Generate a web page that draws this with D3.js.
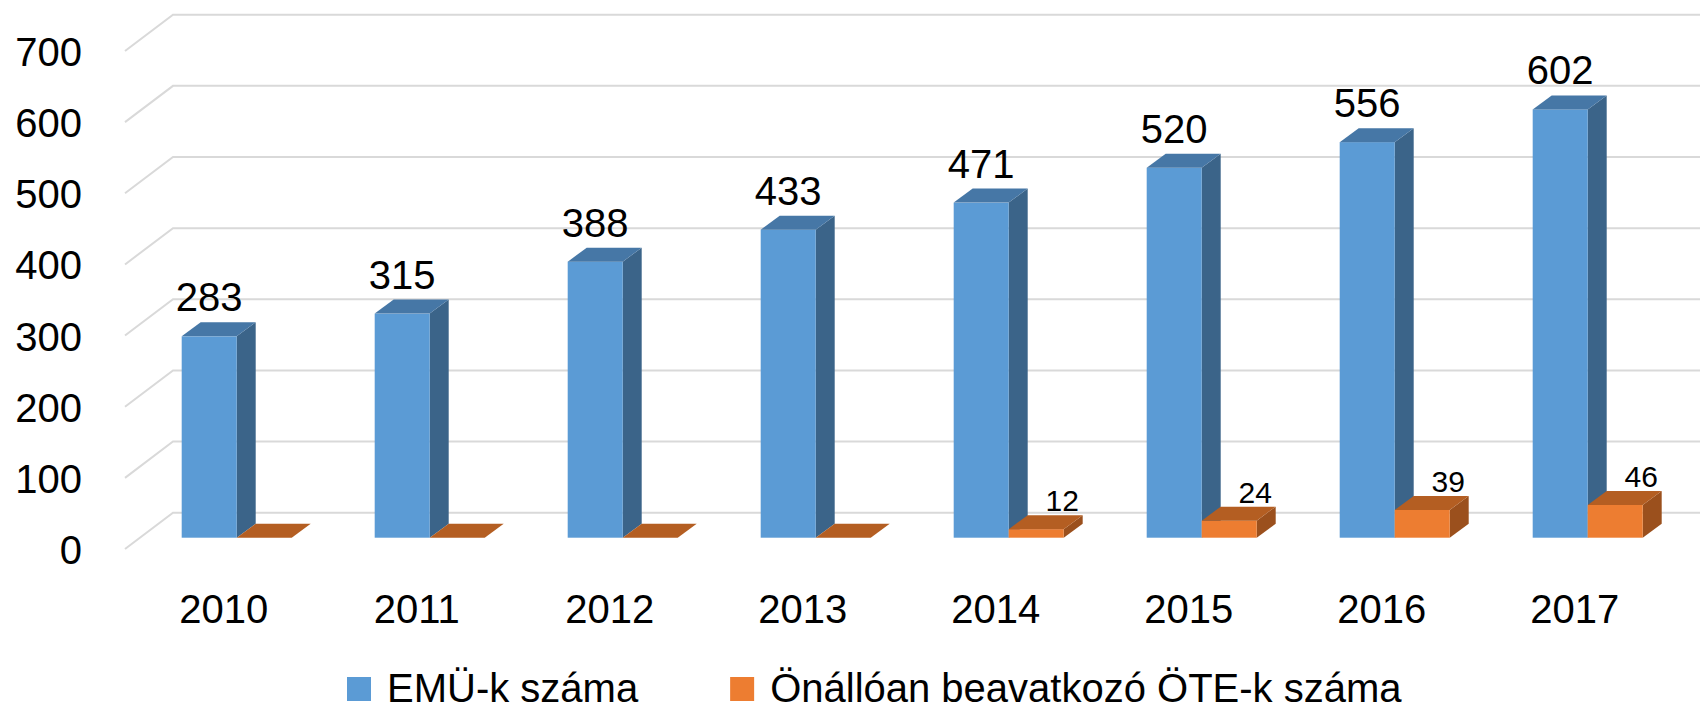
<!DOCTYPE html>
<html>
<head>
<meta charset="utf-8">
<script src="https://cdn.jsdelivr.net/npm/d3@7"></script>
<style>
  body { margin: 0; background: #fff; }
  svg text { font-family: "Liberation Sans", Arial, sans-serif; fill: #000; }
</style>
</head>
<body>
<svg id="chart" width="1700" height="711"></svg>
<script>
// data
const years = ["2010", "2011", "2012", "2013", "2014", "2015", "2016", "2017"];
const emuValues = [283, 315, 388, 433, 471, 520, 556, 602];
const oteValues = [0, 0, 0, 0, 12, 24, 39, 46];
const seriesNames = ["EMÜ-k száma", "Önállóan beavatkozó ÖTE-k száma"];
const yTicks = [0, 100, 200, 300, 400, 500, 600, 700];

const colors = {
  emu: { front: "#5b9bd5", top: "#4677a6", side: "#3b6489" },
  ote: { front: "#ed7d31", top: "#b45e22", side: "#9b501d" }
};

const svg = d3.select("#chart");
svg.append("rect").attr("width", 1700).attr("height", 711).attr("fill", "#fff");

// 3d layout
const wallBase = 512.7;   // y of value 0 on the back wall
const barBase = 537.7;    // y of value 0 on bar front faces
const wallX = 173, frontX = 125, wallDepthY = 36.3;
const dx = 19, dy = 14;   // bar depth

const h = d3.scaleLinear().domain([0, 700]).range([0, 498]);

const x = d3.scaleBand()
  .domain(years)
  .range([140.2, 1684.2])
  .paddingInner(0.43)
  .paddingOuter(0.215);

const xs = d3.scaleBand().domain(["emu", "ote"]).range([0, x.bandwidth()]);

// gridlines
const grid = svg.append("g");
yTicks.forEach(v => {
  const yb = wallBase - h(v);
  grid.append("path")
    .attr("d", `M${frontX},${yb + wallDepthY}L${wallX},${yb}L1700,${yb}`)
    .attr("fill", "none")
    .attr("stroke", "#d9d9d9")
    .attr("stroke-width", 2);
  svg.append("text")
    .attr("x", 82)
    .attr("y", yb + wallDepthY + 15)
    .attr("text-anchor", "end")
    .attr("font-size", 40)
    .text(v);
});

// bars
function bar3d(g, bx, value, w, c) {
  const yt = barBase - h(value);
  g.append("path")
    .attr("d", `M${bx + w},${yt}L${bx + w + dx},${yt - dy}L${bx + w + dx},${barBase - dy}L${bx + w},${barBase}Z`)
    .attr("fill", c.side);
  g.append("rect")
    .attr("x", bx).attr("y", yt)
    .attr("width", w).attr("height", barBase - yt)
    .attr("fill", c.front);
  g.append("path")
    .attr("d", `M${bx},${yt}L${bx + dx},${yt - dy}L${bx + w + dx},${yt - dy}L${bx + w},${yt}Z`)
    .attr("fill", c.top);
}

const bars = svg.append("g");
years.forEach((yr, i) => {
  const g = bars.append("g");
  const bx = x(yr) + xs("emu");
  const ox = x(yr) + xs("ote");
  const w = xs.bandwidth();
  bar3d(g, bx, emuValues[i], w, colors.emu);
  bar3d(g, ox, oteValues[i], w, colors.ote);

  g.append("text")
    .attr("x", bx + w / 2)
    .attr("y", barBase - h(emuValues[i]) - 25)
    .attr("text-anchor", "middle")
    .attr("font-size", 40)
    .text(emuValues[i]);

  if (oteValues[i] > 0) {
    g.append("text")
      .attr("x", ox + w / 2 + 26)
      .attr("y", barBase - h(oteValues[i]) - dy - 4)
      .attr("text-anchor", "middle")
      .attr("font-size", 30)
      .text(oteValues[i]);
  }

  svg.append("text")
    .attr("x", x(yr) + x.bandwidth() / 2 - 13)
    .attr("y", 623)
    .attr("text-anchor", "middle")
    .attr("font-size", 40)
    .text(yr);
});

// legend
const legend = svg.append("g");
let lx = 347;
[colors.emu.front, colors.ote.front].forEach((col, i) => {
  legend.append("rect")
    .attr("x", lx).attr("y", 677)
    .attr("width", 24).attr("height", 24)
    .attr("fill", col);
  const t = legend.append("text")
    .attr("x", lx + 40)
    .attr("y", 701.5)
    .attr("font-size", 40)
    .text(seriesNames[i]);
  lx += 40 + t.node().getComputedTextLength() + 92;
});
</script>
</body>
</html>
